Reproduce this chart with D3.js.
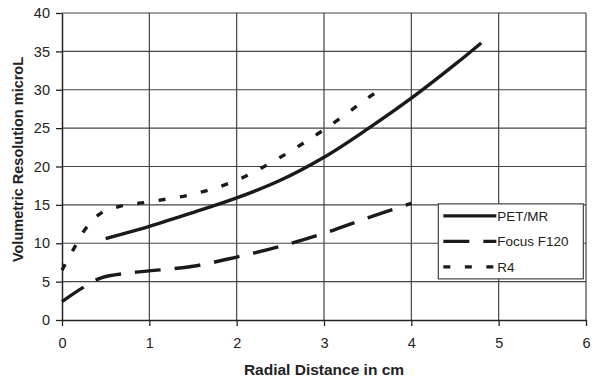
<!DOCTYPE html>
<meta charset="utf-8">
<script src="https://d3js.org/d3.v7.min.js"></script>
<style>
  body { margin: 0; background: #fff; }
  text { font-family: "Liberation Sans", Arial, sans-serif; fill: #222; }
</style>
<div id="chart"></div>
<script>

    // data
    var seriesNames = ["PET/MR", "Focus F120", "R4"];
    var petX   = [0.5, 1, 1.5, 2, 2.5, 3, 3.5, 4, 4.5, 4.8];
    var petY   = [10.6, 12.2, 14.0, 15.9, 18.2, 21.2, 24.9, 28.9, 33.3, 36.1];
    var focusX = [0, 0.25, 0.45, 0.75, 1, 1.5, 2, 2.5, 3, 3.5, 4];
    var focusY = [2.4, 4.3, 5.5, 6.1, 6.4, 7.0, 8.2, 9.6, 11.3, 13.3, 15.2];
    var r4X    = [0, 0.15, 0.27, 0.43, 0.66, 1, 1.5, 2, 2.5, 3, 3.5, 3.7];
    var r4Y    = [6.5, 9.6, 11.9, 13.8, 14.8, 15.4, 16.4, 18.2, 21.2, 24.8, 28.9, 30.5];
    var xTicks = [0, 1, 2, 3, 4, 5, 6];
    var yTicks = [0, 5, 10, 15, 20, 25, 30, 35, 40];

    var margin = {top: 13, right: 14, bottom: 64, left: 62},
        width = 600 - margin.left - margin.right,
        height = 384 - margin.top - margin.bottom;

    var svg = d3.select("#chart")
      .append("svg")
        .attr("width", 600)
        .attr("height", 384)
      .append("g")
        .attr("transform", "translate(" + margin.left + "," + margin.top + ")");

    var x = d3.scaleLinear().domain([0, 6]).range([0, width]);
    var y = d3.scaleLinear().domain([0, 40]).range([height, 0]);

    // grid lines (also make the top and right frame)
    svg.selectAll(".hgrid")
      .data(yTicks.slice(1))
      .enter().append("line")
        .attr("x1", 0).attr("x2", width)
        .attr("y1", function(d) { return y(d); })
        .attr("y2", function(d) { return y(d); })
        .attr("stroke", "#444").attr("stroke-width", 1.2);
    svg.selectAll(".vgrid")
      .data(xTicks.slice(1))
      .enter().append("line")
        .attr("y1", 0).attr("y2", height)
        .attr("x1", function(d) { return x(d); })
        .attr("x2", function(d) { return x(d); })
        .attr("stroke", "#444").attr("stroke-width", 1.2);

    // axes
    var xAxis = svg.append("g")
        .attr("transform", "translate(0," + height + ")")
        .call(d3.axisBottom(x).tickValues(xTicks).tickFormat(d3.format("d"))
              .tickSize(6).tickPadding(12).tickSizeOuter(0));
    var yAxis = svg.append("g")
        .call(d3.axisLeft(y).tickValues(yTicks).tickSize(6).tickPadding(6).tickSizeOuter(0));
    [xAxis, yAxis].forEach(function(a) {
      a.select(".domain").attr("stroke", "#222").attr("stroke-width", 1.5);
      a.selectAll(".tick line").attr("stroke", "#222").attr("stroke-width", 1.3);
      a.selectAll("text").style("font-size", "14.5px").attr("fill", "#222");
    });

    // axis titles
    svg.append("text")
      .attr("x", width / 2)
      .attr("y", height + 55)
      .attr("text-anchor", "middle")
      .style("font-size", "15.5px")
      .style("font-weight", "bold")
      .text("Radial Distance in cm");
    svg.append("text")
      .attr("transform", "translate(" + (-39) + "," + (height / 2 - 7) + ") rotate(-90)")
      .attr("text-anchor", "middle")
      .style("font-size", "14.5px")
      .style("font-weight", "bold")
      .text("Volumetric Resolution microL");

    // series
    var dashes = ["none", "26,14", "7,14.5"];
    var series = [
      d3.zip(petX, petY),
      d3.zip(focusX, focusY),
      d3.zip(r4X, r4Y)
    ];
    var line = d3.line()
        .x(function(d) { return x(d[0]); })
        .y(function(d) { return y(d[1]); })
        .curve(d3.curveCatmullRom.alpha(0.5));

    svg.selectAll(".series")
      .data(series)
      .enter().append("path")
        .attr("d", line)
        .attr("fill", "none")
        .attr("stroke", "#1a1a1a")
        .attr("stroke-width", 3.4)
        .attr("stroke-dasharray", function(d, i) { return dashes[i]; });

    // legend
    var lg = svg.append("g")
        .attr("transform", "translate(" + (x(4) + 27) + "," + (y(15) - 1) + ")");
    lg.append("rect")
        .attr("width", 145).attr("height", 75)
        .attr("fill", "#fff").attr("stroke", "#444").attr("stroke-width", 1.2);
    seriesNames.forEach(function(name, i) {
      var row = lg.append("g").attr("transform", "translate(0," + (12 + i * 25.5) + ")");
      row.append("line")
        .attr("x1", 5).attr("x2", 58)
        .attr("stroke", "#1a1a1a").attr("stroke-width", 3.4)
        .attr("stroke-dasharray", dashes[i]);
      row.append("text")
        .attr("x", 59).attr("y", 5)
        .style("font-size", "13.5px")
        .text(name);
    });

</script>
